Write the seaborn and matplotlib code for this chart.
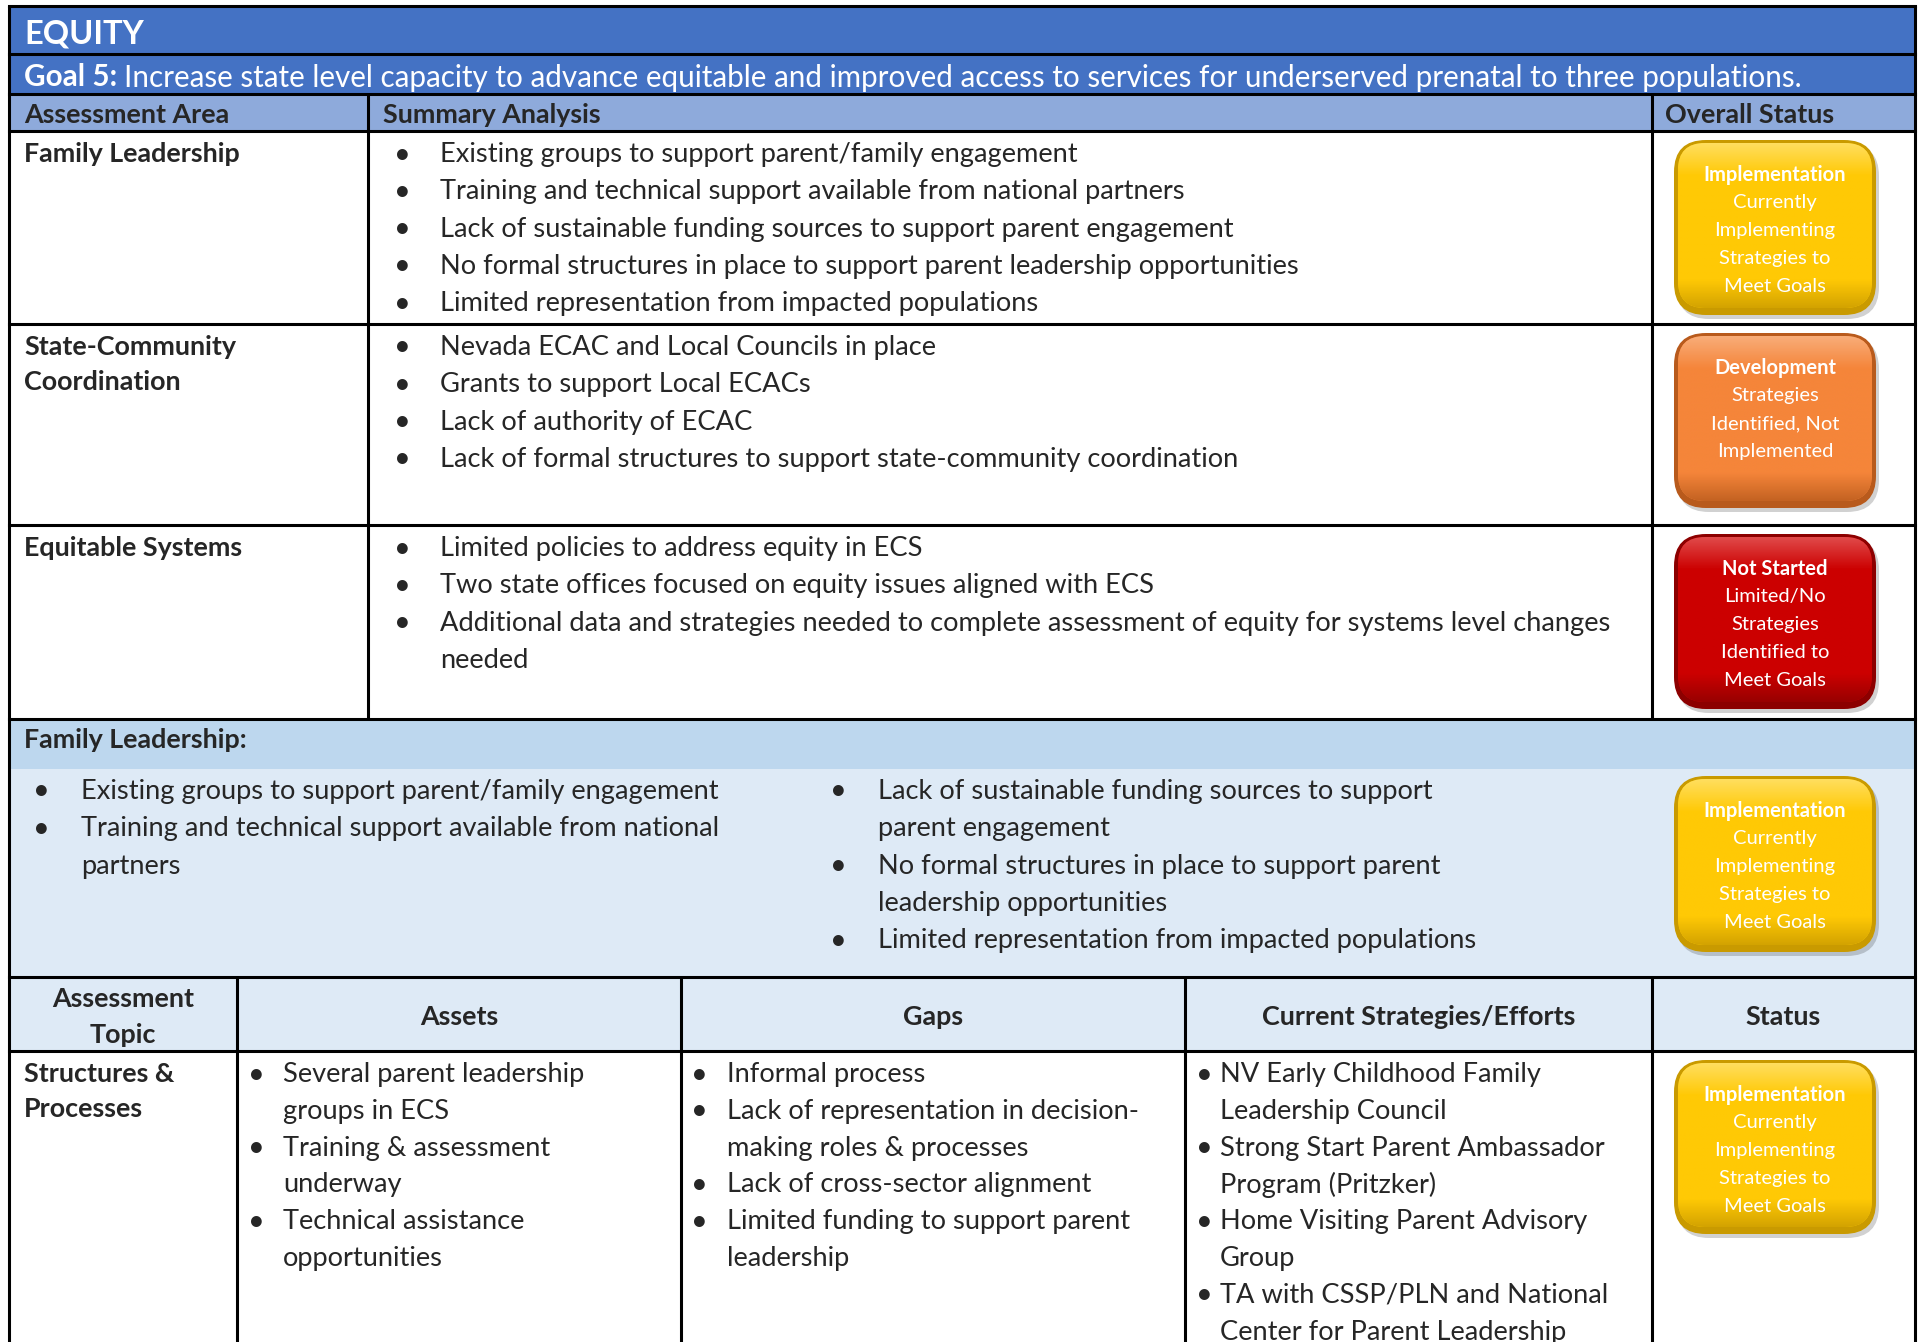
import matplotlib
matplotlib.use("Agg")
import numpy as np
import matplotlib.pyplot as plt
import seaborn as sns
from matplotlib.patches import Rectangle, FancyBboxPatch
from matplotlib.colors import LinearSegmentedColormap

sns.set_theme(style="white")
plt.rcParams['font.family'] = ['Lato', 'DejaVu Sans']

# ---------------- content ----------------
section_title = "EQUITY"
goal_label = "Goal 5:"
goal_text = ("Increase state level capacity to advance equitable and improved access "
             "to services for underserved prenatal to three populations.")

summary_headers = ["Assessment Area", "Summary Analysis", "Overall Status"]
areas = ["Family Leadership", "State-Community\nCoordination", "Equitable Systems"]
area_bullets = [
    ["Existing groups to support parent/family engagement",
     "Training and technical support available from national partners",
     "Lack of sustainable funding sources to support parent engagement",
     "No formal structures in place to support parent leadership opportunities",
     "Limited representation from impacted populations"],
    ["Nevada ECAC and Local Councils in place",
     "Grants to support Local ECACs",
     "Lack of authority of ECAC",
     "Lack of formal structures to support state-community coordination"],
    ["Limited policies to address equity in ECS",
     "Two state offices focused on equity issues aligned with ECS",
     "Additional data and strategies needed to complete assessment of equity for systems level changes\nneeded"],
]
area_status = ["Implementation", "Development", "Not Started"]

status_lines = {
    "Implementation": ["Currently", "Implementing", "Strategies to", "Meet Goals"],
    "Development": ["Strategies", "Identified, Not", "Implemented"],
    "Not Started": ["Limited/No", "Strategies", "Identified to", "Meet Goals"],
}
status_colors = {
    "Implementation": ("#FFC905", "#C99A00", "#FFE066"),
    "Development": ("#F5853A", "#B85A1C", "#F9B07E"),
    "Not Started": ("#CC0000", "#8C0000", "#E25050"),
}

fl_title = "Family Leadership:"
fl_left = ["Existing groups to support parent/family engagement",
           "Training and technical support available from national\npartners"]
fl_right = ["Lack of sustainable funding sources to support\nparent engagement",
            "No formal structures in place to support parent\nleadership opportunities",
            "Limited representation from impacted populations"]
fl_status = "Implementation"

topic_headers = ["Assessment\nTopic", "Assets", "Gaps", "Current Strategies/Efforts", "Status"]
topic = "Structures &\nProcesses"
assets = ["Several parent leadership\ngroups in ECS",
          "Training & assessment\nunderway",
          "Technical assistance\nopportunities"]
gaps = ["Informal process",
        "Lack of representation in decision-\nmaking roles & processes",
        "Lack of cross-sector alignment",
        "Limited funding to support parent\nleadership"]
strategies = ["NV Early Childhood Family\nLeadership Council",
              "Strong Start Parent Ambassador\nProgram (Pritzker)",
              "Home Visiting Parent Advisory\nGroup",
              "TA with CSSP/PLN and National\nCenter for Parent Leadership"]
topic_status = "Implementation"

# ---------------- layout (pixels) ----------------
W, H = 1923, 1342
L, R = 9, 1915
TOP = 6
Y_GOAL, Y_HEAD, Y_ROWS = 54, 94, 131
ROW_BOT = [324, 525, 719]
Y_FLB, Y_BT, Y_BH = 769, 977, 1051
C1, C2 = 368, 1652
BCOLS = [237, 681, 1185, 1652]
STEP = 37.3
BODY = 19.6
BOLD = 19.4
BADGE = 14.5

fig = plt.figure(figsize=(W / 100, H / 100), dpi=100)
ax = fig.add_axes([0, 0, 1, 1])
ax.set_xlim(0, W)
ax.set_ylim(H, 0)
ax.axis("off")

def box(x0, y0, x1, y1, color):
    ax.add_patch(Rectangle((x0, y0), x1 - x0, y1 - y0, fc=color, ec="none", zorder=0))

box(L, TOP, R, Y_GOAL, "#4472C4")
box(L, Y_GOAL, R, Y_HEAD, "#4472C4")
box(L, Y_HEAD, R, Y_ROWS, "#8EAADB")
box(L, ROW_BOT[2], R, Y_FLB, "#BDD7EE")
box(L, Y_FLB, R, Y_BT, "#DEEAF6")
box(L, Y_BT, R, Y_BH, "#DEEAF6")

lw = 2.2
for y in [TOP, Y_GOAL, Y_HEAD, Y_ROWS] + ROW_BOT + [Y_BT, Y_BH]:
    ax.plot([L, R], [y, y], color="black", lw=lw, zorder=3, solid_capstyle="projecting")
for x in [L, R]:
    ax.plot([x, x], [TOP, H + 5], color="black", lw=lw, zorder=3)
for x in [C1, C2]:
    ax.plot([x, x], [Y_HEAD, ROW_BOT[2]], color="black", lw=lw, zorder=3)
for x in BCOLS:
    ax.plot([x, x], [Y_BT, H + 5], color="black", lw=lw, zorder=3)


def bullets(items, xb, xt, y, step=STEP, size=BODY, bsize=21):
    for item in items:
        ax.text(xb, y, "\u2022", fontsize=bsize, va="center_baseline", ha="left", zorder=5)
        for line in item.split("\n"):
            ax.text(xt, y, line, fontsize=size, va="center_baseline", ha="left", zorder=5)
            y += step


def badge(x0, y0, x1, y1, status):
    main, dark, light = status_colors[status]
    r = 32
    w, h = x1 - x0, y1 - y0
    ax.add_patch(FancyBboxPatch((x0 + r + 3, y0 + r + 4), w - 2 * r, h - 2 * r,
                                boxstyle=f"round,pad={r}", fc="#000000", alpha=0.18, ec="none", zorder=4))
    ax.add_patch(FancyBboxPatch((x0 + r, y0 + r), w - 2 * r, h - 2 * r,
                                boxstyle=f"round,pad={r}", fc=dark, ec="none", zorder=4))
    ri = 27
    inner = FancyBboxPatch((x0 + ri + 4, y0 + ri + 3), w - 2 * ri - 8, h - 2 * ri - 10,
                           boxstyle=f"round,pad={ri}", fc=main, ec="none", zorder=4.1)
    ax.add_patch(inner)
    cmap = LinearSegmentedColormap.from_list("g", [light, main, main, main, main, dark])
    grad = np.linspace(0, 1, 200).reshape(-1, 1)
    im = ax.imshow(grad, extent=(x0, x1, y1, y0), cmap=cmap, aspect="auto",
                   origin="upper", zorder=4.2, interpolation="bilinear")
    im.set_clip_path(inner)
    cx = (x0 + x1) / 2
    ty = y0 + 33
    ax.text(cx, ty, status, color="white", fontsize=BADGE, fontweight="bold",
            ha="center", va="center_baseline", zorder=6)
    for line in status_lines[status]:
        ty += 28
        ax.text(cx, ty, line, color="white", fontsize=BADGE, ha="center",
                va="center_baseline", zorder=6)


# title + goal
ax.text(24, 31, section_title, color="white", fontsize=23.5, fontweight="bold",
        va="center_baseline", ha="left", zorder=5)
tb = ax.text(24, 75, goal_label, color="white", fontsize=21.3, fontweight="bold",
             va="center_baseline", ha="left", zorder=5)
fig.canvas.draw()
bb = tb.get_window_extent().transformed(ax.transData.inverted())
ax.text(bb.x1 + 7, 75, goal_text, color="white", fontsize=21.3,
        va="center_baseline", ha="left", zorder=5)

# summary header
for x, t in zip([24, C1 + 15, C2 + 13], summary_headers):
    ax.text(x, 113, t, fontsize=BOLD, fontweight="bold", va="center_baseline", ha="left", zorder=5)

row_tops = [Y_ROWS] + ROW_BOT[:2]
for i, (area, items, st) in enumerate(zip(areas, area_bullets, area_status)):
    y = row_tops[i] + 21
    for k, line in enumerate(area.split("\n")):
        ax.text(24, y + k * 35, line, fontsize=BOLD, fontweight="bold",
                va="center_baseline", ha="left", zorder=5)
    bullets(items, 394, 440, y)
    badge(1674, row_tops[i] + 9, 1876, row_tops[i] + 184, st)

# family leadership block
ax.text(24, 738, fl_title, fontsize=BOLD, fontweight="bold", va="center_baseline", ha="left", zorder=5)
bullets(fl_left, 33, 81, 789)
bullets(fl_right, 830, 878, 789)
badge(1674, 776, 1876, 952, fl_status)

# bottom table
hcx = [(L + BCOLS[0]) / 2, (BCOLS[0] + BCOLS[1]) / 2, (BCOLS[1] + BCOLS[2]) / 2,
       (BCOLS[2] + BCOLS[3]) / 2, (BCOLS[3] + R) / 2]
for cx, t in zip(hcx, topic_headers):
    lines = t.split("\n")
    y0 = 1015 - (len(lines) - 1) * 36 / 2
    for k, line in enumerate(lines):
        ax.text(cx, y0 + k * 36, line, fontsize=BOLD, fontweight="bold",
                ha="center", va="center_baseline", zorder=5)

for k, line in enumerate(topic.split("\n")):
    ax.text(24, 1072 + k * 35, line, fontsize=BOLD, fontweight="bold",
            va="center_baseline", ha="left", zorder=5)
bullets(assets, 248, 283, 1072, step=36.8)
bullets(gaps, 691, 727, 1072, step=36.8)
bullets(strategies, 1196, 1220, 1072, step=36.8)
badge(1674, 1060, 1876, 1234, topic_status)

ax.set_xlim(0, W)
ax.set_ylim(H, 0)
fig.savefig("out.png", dpi=100, facecolor="white")
